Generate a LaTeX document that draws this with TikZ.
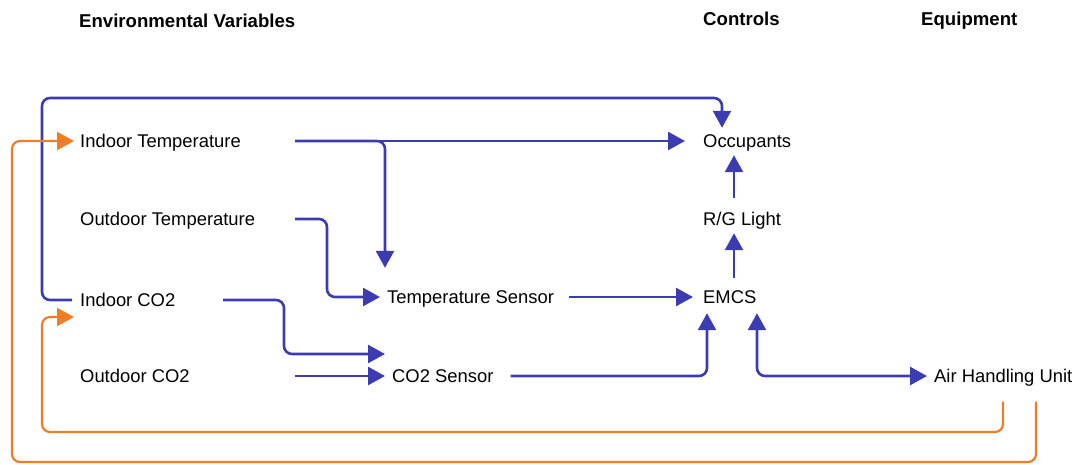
\documentclass[tikz,border=0pt]{standalone}
\usepackage{fontspec}
\setmainfont{Liberation Sans}
\usetikzlibrary{arrows.meta,calc}
\definecolor{flowblue}{RGB}{60,60,178}
\definecolor{floworange}{RGB}{240,124,38}
\tikzset{
  lbl/.style={font=\fontsize{18.4}{20}\selectfont, anchor=west, inner sep=0pt, text height=13pt, text depth=0pt},
  hdr/.style={font=\fontsize{18.6}{20}\selectfont\bfseries, anchor=base west, inner sep=0pt},
  bl/.style={draw=flowblue, line width=2.6pt, rounded corners=8pt, -{Triangle[length=17pt,width=18pt]}},
  bl2/.style={draw=flowblue, line width=2.6pt, rounded corners=8pt, {Triangle[length=17pt,width=18pt]}-{Triangle[length=17pt,width=18pt]}},
  orl/.style={draw=floworange, line width=2.2pt, rounded corners=8pt, -{Triangle[length=17pt,width=18pt]}},
}
\begin{document}
\begin{tikzpicture}[x=1pt,y=-1pt]
\useasboundingbox (0,0) rectangle (1077,464);
% headers
\node[hdr] (h1) at (79,27) {Environmental Variables};
\node[hdr] (h2) at (703,25) {Controls};
\node[hdr] (h3) at (921,25) {Equipment};
% nodes
\node[lbl] (IT) at (80,141) {Indoor Temperature};
\node[lbl] (OT) at (80,219) {Outdoor Temperature};
\node[lbl] (ICO2) at (80,300) {Indoor CO2};
\node[lbl] (OCO2) at (80,376) {Outdoor CO2};
\node[lbl] (TS) at (387,297) {Temperature Sensor};
\node[lbl] (CO2S) at (392,376) {CO2 Sensor};
\node[lbl] (Occ) at (703,141) {Occupants};
\node[lbl] (RG) at (703,219) {R/G Light};
\node[lbl] (EMCS) at (703,297) {EMCS};
\node[lbl] (AHU) at (934,376) {Air Handling Unit};
% blue connectors
\draw[bl] ($(ICO2.west)+(-8,0)$) -| (42,98) -| ($(Occ.north -| 722,0)+(0,-6.5)$);
\draw[bl] (IT.east -| 295,0) -- ($(Occ.west)+(-18,0)$);
\draw[bl] (IT.east -| 295,0) -| ($(TS.north -| 385,0)+(0,-22.5)$);
\draw[bl] (OT.east -| 295,0) -| ($(TS.west)+(-60,0)$) -- ($(TS.west)+(-7,0)$);
\draw[bl] (TS.east) ++(15,0) -- ($(EMCS.west)+(-10,0)$);
\draw[bl] (ICO2.east -| 223,0) -| (284,354) -- ($(CO2S.west |- 0,354)+(-7,0)$);
\draw[bl] (OCO2.east -| 295,0) -- ($(CO2S.west)+(-7,0)$);
\draw[bl] (CO2S.east) ++(17,0) -| ($(EMCS.south -| 707,0)+(0,9.5)$);
\draw[bl2] ($(EMCS.south -| 757,0)+(0,9.5)$) |- ($(AHU.west)+(-7,0)$);
\draw[bl] ($(EMCS.north -| 734,0)+(0,-12.5)$) -- ($(RG.south -| 734,0)+(0,7.5)$);
\draw[bl] ($(RG.north -| 734,0)+(0,-14.5)$) -- ($(Occ.south -| 734,0)+(0,7.5)$);
% orange connectors
\draw[orl] (AHU.south -| 1003,0) ++(0,19) |- (42,432) |- ($(ICO2.west |- 0,317)+(-6,0)$);
\draw[orl] (AHU.south -| 1036,0) ++(0,19) |- (12,462) |- ($(IT.west)+(-6,0)$);
\end{tikzpicture}
\end{document}
